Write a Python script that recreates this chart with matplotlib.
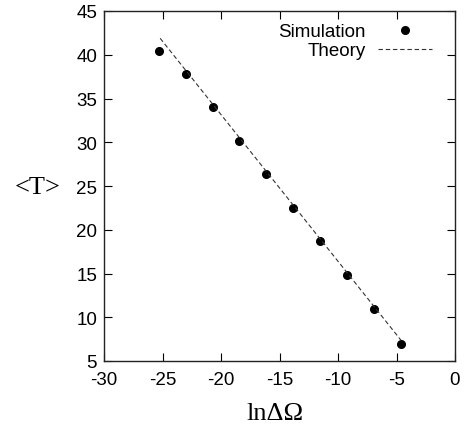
import matplotlib
matplotlib.use("Agg")
import matplotlib.pyplot as plt

# Data
sim_x = [-25.33, -23.03, -20.72, -18.42, -16.12, -13.82, -11.51, -9.21, -6.91, -4.61]
sim_y = [40.47, 37.85, 34.04, 30.2, 26.39, 22.51, 18.67, 14.82, 10.98, 6.99]
theory_x = [-25.2, -4.61]
theory_y = [41.88, 7.36]
xticks = [-30, -25, -20, -15, -10, -5, 0]
yticks = [5, 10, 15, 20, 25, 30, 35, 40, 45]

plt.rcParams['font.family'] = ['Liberation Sans', 'DejaVu Sans']

fig = plt.figure(figsize=(4.70, 4.31), dpi=100)
ax = fig.add_axes([104/470, 1-362/431, (455-104)/470, (362-12)/431])

ax.plot(sim_x, sim_y, 'o', color='black', markersize=5.5, label='Simulation')
ax.plot(theory_x, theory_y, linestyle=(0, (4, 2.5)), color='#333333', linewidth=0.8, label='Theory')

ax.set_xlim(-30, 0)
ax.set_ylim(5, 45)
ax.set_xticks(xticks)
ax.set_yticks(yticks)
ax.set_xticklabels([str(t) for t in xticks])
ax.set_yticklabels([str(t) for t in yticks])
ax.tick_params(direction='in', length=6, width=0.8, top=True, right=True,
               labelsize=13.5, pad=5, colors='black')
ax.tick_params(axis='x', pad=7)
for s in ax.spines.values():
    s.set_linewidth(1.0)
    s.set_color('#222222')

ax.set_xlabel('lnΔΩ', family=['Liberation Serif', 'DejaVu Serif'], fontsize=19,
              va='center', ha='center')
ax.xaxis.set_label_coords((275-104)/351, (362-414)/350)
ax.set_ylabel('<T>', family=['Liberation Serif', 'DejaVu Serif'], fontsize=19, rotation=0,
              va='center', ha='center')
ax.yaxis.set_label_coords((38-104)/351, (362-188)/350)

leg = ax.legend(loc='upper right', frameon=False, markerfirst=False, fontsize=13.5,
                handlelength=2.9, handletextpad=0.62, labelspacing=0.1,
                borderpad=0, borderaxespad=0,
                bbox_to_anchor=((432-104)/351, (362-24)/350))
for t in leg.get_texts():
    t.set_ha('right')

fig.savefig('out.png', dpi=100)
